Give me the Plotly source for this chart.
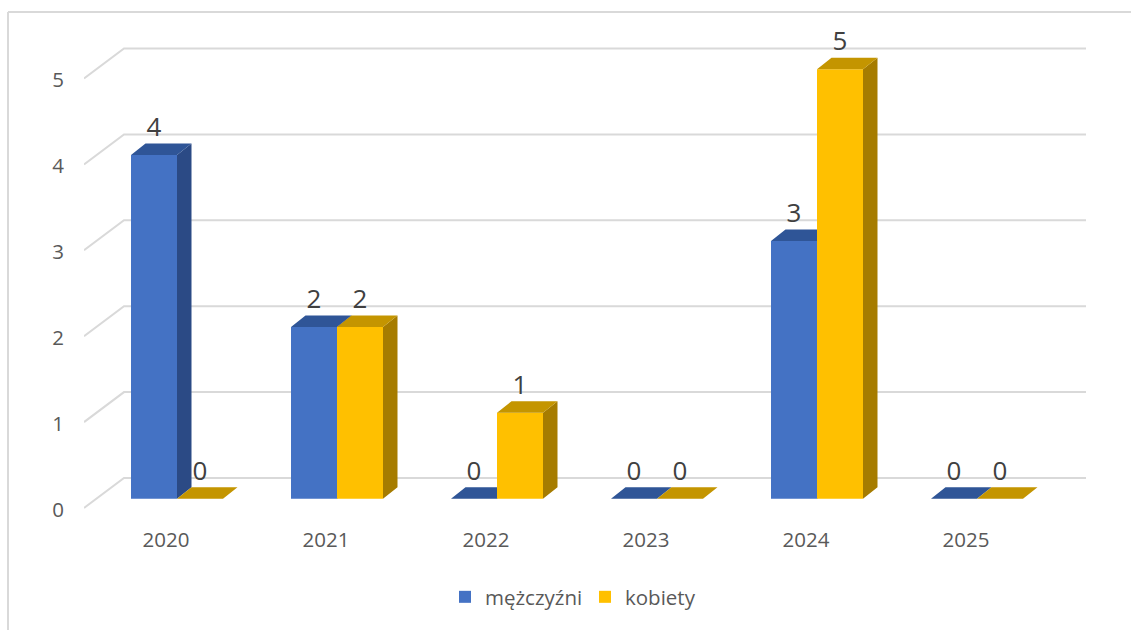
import plotly.graph_objects as go

years = ["2020", "2021", "2022", "2023", "2024", "2025"]
men = [4, 2, 0, 0, 3, 0]
women = [0, 2, 1, 0, 5, 0]
y_ticks = [0, 1, 2, 3, 4, 5]

FONT = "Open Sans, Noto Sans, sans-serif"
W, H = 1131, 630
L, R, T, B = 84, 41, 30, 105
PX_X = 160.0      # pixels per category
PX_Y = 85.9       # pixels per value unit
X0_PX, Y0_PX = 177.0, 498.7   # pixel of category 0 / value 0

bar_w = 46 / PX_X
dx, dy = 14.5 / PX_X, 11.5 / PX_Y      # bar depth
wall_dx0, wall_dx1 = (84 - X0_PX) / PX_X, (124 - X0_PX) / PX_X
wall_end = (1086 - X0_PX) / PX_X
front_dy, wall_dy = -9.3 / PX_Y, 20.7 / PX_Y
label_dy = 25.7 / PX_Y
tick_dx = -11 / PX_X
ytick_dy = -11 / PX_Y

xr = [(L - X0_PX) / PX_X, (W - R - X0_PX) / PX_X]
yr = [(Y0_PX - (H - B)) / PX_Y, (Y0_PX - T) / PX_Y]
xs = list(range(len(years)))


def faces(values, x_off):
    sx, sy, tx, ty = [], [], [], []
    for i, v in zip(xs, values):
        a, b = i + x_off, i + x_off + bar_w
        sx += [b, b + dx, b + dx, b, b, None]
        sy += [0, dy, v + dy, v, 0, None]
        tx += [a, b, b + dx, a + dx, a, None]
        ty += [v, v, v + dy, v + dy, v, None]
    return sx, sy, tx, ty


def poly(x, y, color, xa, ya):
    return go.Scatter(x=x, y=y, mode="lines", fill="toself", fillcolor=color,
                      line=dict(width=0, color=color), hoverinfo="skip",
                      showlegend=False, xaxis=xa, yaxis=ya)


def labels(values, x_off, xa, ya):
    return go.Scatter(x=[i + x_off + bar_w / 2 for i in xs],
                      y=[v + label_dy for v in values],
                      text=[str(v) for v in values], mode="text",
                      textposition="middle center",
                      textfont=dict(family=FONT, size=26, color="#404040"),
                      showlegend=False, hoverinfo="skip", xaxis=xa, yaxis=ya, cliponaxis=False)


gx, gy = [], []
for t in y_ticks:
    gx += [wall_dx0, wall_dx1, wall_end, None]
    gy += [t + front_dy, t + wall_dy, t + wall_dy, None]

fig = go.Figure()
fig.add_trace(go.Scatter(x=gx, y=gy, mode="lines", line=dict(color="#D9D9D9", width=2),
                         hoverinfo="skip", showlegend=False, cliponaxis=False))

fig.add_trace(go.Bar(x=xs, y=men, name="mężczyźni", width=bar_w, offset=-bar_w,
                     marker=dict(color="#4472C4", line=dict(width=0)), xaxis="x2", yaxis="y2"))
sx, sy, tx, ty = faces(men, -bar_w)
fig.add_trace(poly(sx, sy, "#2B4A85", "x2", "y2"))
fig.add_trace(poly(tx, ty, "#2F5597", "x2", "y2"))
fig.add_trace(labels(men, -bar_w, "x2", "y2"))

fig.add_trace(go.Bar(x=xs, y=women, name="kobiety", width=bar_w, offset=0,
                     marker=dict(color="#FFC000", line=dict(width=0)), xaxis="x3", yaxis="y3"))
sx, sy, tx, ty = faces(women, 0)
fig.add_trace(poly(sx, sy, "#A67C00", "x3", "y3"))
fig.add_trace(poly(tx, ty, "#C49500", "x3", "y3"))
fig.add_trace(labels(women, 0, "x3", "y3"))

pw, ph = W - L - R, H - T - B
px = lambda p: (p - L) / pw
py = lambda p: (H - B - p) / ph

fig.update_layout(
    width=W, height=H, autosize=False,
    margin=dict(l=L, r=R, t=T, b=B, pad=0),
    paper_bgcolor="white", plot_bgcolor="rgba(0,0,0,0)",
    font=dict(family=FONT, size=20, color="#595959"),
    barmode="overlay",
    xaxis=dict(range=xr, tickmode="array", tickvals=[i + tick_dx for i in xs], ticktext=years,
               showgrid=False, zeroline=False, showline=False, ticks="", fixedrange=True,
               tickfont=dict(family=FONT, size=20.5, color="#595959")),
    yaxis=dict(range=yr, tickmode="array", tickvals=[t + ytick_dy for t in y_ticks],
               ticktext=[str(t) for t in y_ticks], showgrid=False, zeroline=False,
               showline=False, ticks="outside", ticklen=15, tickcolor="rgba(0,0,0,0)",
               fixedrange=True, tickfont=dict(family=FONT, size=20.5, color="#595959")),
    xaxis2=dict(range=xr, overlaying="x", visible=False, fixedrange=True),
    yaxis2=dict(range=yr, overlaying="y", visible=False, fixedrange=True),
    xaxis3=dict(range=xr, overlaying="x", visible=False, fixedrange=True),
    yaxis3=dict(range=yr, overlaying="y", visible=False, fixedrange=True),
    legend=dict(orientation="h", x=px(445), y=py(597), xanchor="left", yanchor="middle",
                entrywidth=95, entrywidthmode="pixels", itemwidth=30,
                font=dict(family=FONT, size=20.5, color="#595959"),
                bgcolor="rgba(0,0,0,0)", traceorder="normal"),
    shapes=[
        dict(type="line", xref="paper", yref="paper", x0=px(8), x1=px(8), y0=py(12), y1=py(630),
             line=dict(color="#D9D9D9", width=2)),
        dict(type="line", xref="paper", yref="paper", x0=px(8), x1=px(1131), y0=py(12), y1=py(12),
             line=dict(color="#D9D9D9", width=2)),
    ],
)

fig.write_html("out.html", config={"displayModeBar": False},
               post_script="document.body.style.margin='0';")
